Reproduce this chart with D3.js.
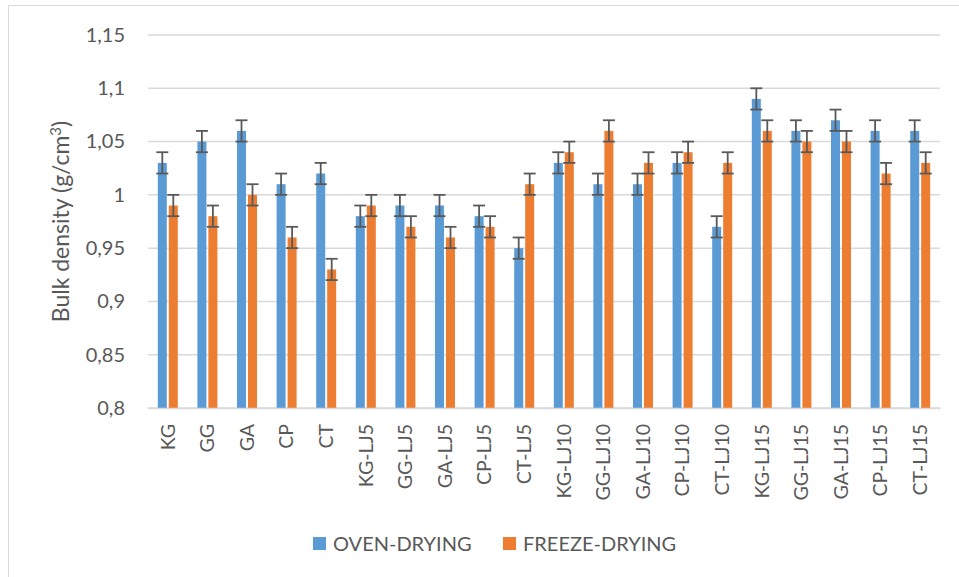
<!DOCTYPE html>
<html>
<head>
<meta charset="utf-8">
<script src="https://cdn.jsdelivr.net/npm/d3@7"></script>
<style>
  body { margin: 0; background: #fff; }
  text { font-family: Lato, "Noto Sans", sans-serif; fill: #595959; }
</style>
</head>
<body>
<script>
const categories = ["KG", "GG", "GA", "CP", "CT",
  "KG-LJ5", "GG-LJ5", "GA-LJ5", "CP-LJ5", "CT-LJ5",
  "KG-LJ10", "GG-LJ10", "GA-LJ10", "CP-LJ10", "CT-LJ10",
  "KG-LJ15", "GG-LJ15", "GA-LJ15", "CP-LJ15", "CT-LJ15"];
const seriesNames = ["OVEN-DRYING", "FREEZE-DRYING"];
const ovenDrying = [1.03, 1.05, 1.06, 1.01, 1.02,
  0.98, 0.99, 0.99, 0.98, 0.95,
  1.03, 1.01, 1.01, 1.03, 0.97,
  1.09, 1.06, 1.07, 1.06, 1.06];
const freezeDrying = [0.99, 0.98, 1.00, 0.96, 0.93,
  0.99, 0.97, 0.96, 0.97, 1.01,
  1.04, 1.06, 1.03, 1.04, 1.03,
  1.06, 1.05, 1.05, 1.02, 1.03];
const ovenErr = Array(20).fill(0.01);
const freezeErr = Array(20).fill(0.01);
const yTicks = [0.8, 0.85, 0.9, 0.95, 1, 1.05, 1.1, 1.15];
const colors = ["#5b9bd5", "#ed7d31"];

const W = 959, H = 577;
const margin = { top: 35, right: 19, bottom: 169, left: 148 };
const width = W - margin.left - margin.right;
const height = H - margin.top - margin.bottom;

const svg = d3.select("body").append("svg")
  .attr("width", W).attr("height", H);

// chart frame (only top & left edges are visible in the crop)
svg.append("path")
  .attr("d", `M8.5,${H} V5.5 H${W}`)
  .attr("fill", "none").attr("stroke", "#d9d9d9").attr("stroke-width", 1);

const g = svg.append("g").attr("transform", `translate(${margin.left},${margin.top})`);

const x0 = d3.scaleBand().domain(categories).range([0, width])
  .paddingInner(0.495).paddingOuter(0.2475);
const x1 = d3.scaleBand().domain(seriesNames).range([0, x0.bandwidth()])
  .paddingInner(0.18).paddingOuter(0);
const y = d3.scaleLinear().domain([0.8, 1.15]).range([height, 0]);

// gridlines
g.append("g").selectAll("line").data(yTicks).join("line")
  .attr("x1", 0).attr("x2", width)
  .attr("y1", d => y(d)).attr("y2", d => y(d))
  .attr("stroke", "#d9d9d9").attr("stroke-width", 1.5);

// y axis labels
const yAxis = g.append("g")
  .call(d3.axisLeft(y).tickValues(yTicks).tickSize(0).tickPadding(23)
    .tickFormat(d => String(d).replace(".", ",")));
yAxis.select(".domain").remove();
yAxis.selectAll("text").attr("font-size", 20).style("font-family", "Lato, 'Noto Sans', sans-serif")
  .attr("fill", "#595959");

const rows = categories.map((c, i) => ({
  cat: c,
  vals: [
    { s: seriesNames[0], v: ovenDrying[i], e: ovenErr[i], c: colors[0] },
    { s: seriesNames[1], v: freezeDrying[i], e: freezeErr[i], c: colors[1] }
  ]
}));

const grp = g.append("g").selectAll("g").data(rows).join("g")
  .attr("transform", d => `translate(${x0(d.cat)},0)`);

grp.selectAll("rect").data(d => d.vals).join("rect")
  .attr("x", d => x1(d.s))
  .attr("y", d => y(d.v))
  .attr("width", x1.bandwidth())
  .attr("height", d => y(0.8) - y(d.v))
  .attr("fill", d => d.c);

// error bars
const capW = 12;
const eb = grp.selectAll("g.err").data(d => d.vals).join("g").attr("class", "err")
  .attr("stroke", "#595959").attr("stroke-width", 1.8);
eb.append("line")
  .attr("x1", d => x1(d.s) + x1.bandwidth() / 2).attr("x2", d => x1(d.s) + x1.bandwidth() / 2)
  .attr("y1", d => y(d.v + d.e)).attr("y2", d => y(d.v - d.e));
eb.append("line")
  .attr("x1", d => x1(d.s) + x1.bandwidth() / 2 - capW / 2).attr("x2", d => x1(d.s) + x1.bandwidth() / 2 + capW / 2)
  .attr("y1", d => y(d.v + d.e)).attr("y2", d => y(d.v + d.e));
eb.append("line")
  .attr("x1", d => x1(d.s) + x1.bandwidth() / 2 - capW / 2).attr("x2", d => x1(d.s) + x1.bandwidth() / 2 + capW / 2)
  .attr("y1", d => y(d.v - d.e)).attr("y2", d => y(d.v - d.e));

// x axis
const xAxis = g.append("g").attr("transform", `translate(0,${height})`)
  .call(d3.axisBottom(x0).tickSize(0).tickPadding(0));
xAxis.select(".domain").attr("stroke", "#d9d9d9").attr("stroke-width", 1.5);
xAxis.selectAll("text")
  .attr("font-size", 19.5)
  .style("font-family", "Lato, 'Noto Sans', sans-serif")
  .attr("fill", "#595959")
  .attr("text-anchor", "end")
  .attr("dy", "0.35em")
  .attr("transform", "translate(0,16) rotate(-90)")
  .attr("x", 0).attr("y", 0);

// y title
svg.append("text")
  .attr("transform", `translate(61,${margin.top + height / 2}) rotate(-90)`)
  .attr("text-anchor", "middle")
  .attr("dy", "0.35em")
  .attr("font-size", 23)
  .html('Bulk density (g/cm<tspan dy="-8" font-size="15">3</tspan><tspan dy="8">)</tspan>');

// legend
const legendItems = [
  { name: seriesNames[0], c: colors[0], x: 313 },
  { name: seriesNames[1], c: colors[1], x: 503 }
];
const lg = svg.append("g").selectAll("g").data(legendItems).join("g")
  .attr("transform", d => `translate(${d.x},537)`);
lg.append("rect").attr("width", 13).attr("height", 13).attr("fill", d => d.c);
lg.append("text").attr("x", 20).attr("y", 7).attr("dy", "0.35em")
  .attr("font-size", 20).text(d => d.name);
</script>
</body>
</html>
